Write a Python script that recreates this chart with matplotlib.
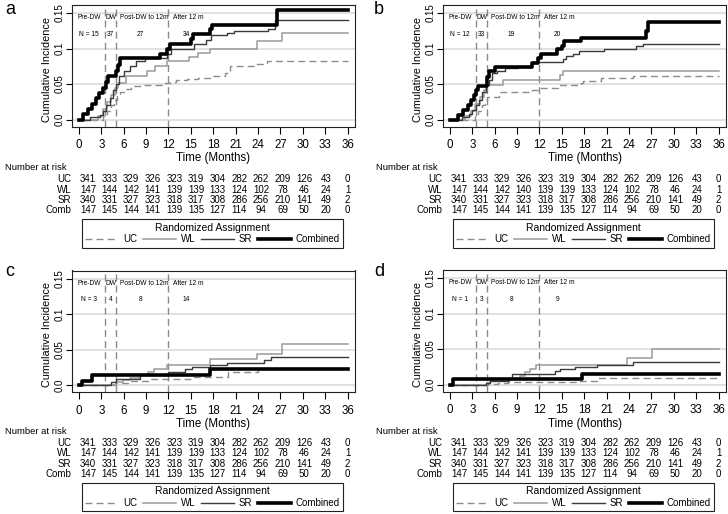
import matplotlib
matplotlib.use('Agg')
import matplotlib.pyplot as plt
from matplotlib.lines import Line2D
from matplotlib.transforms import blended_transform_factory
import numpy as np

plt.rcParams['font.family'] = ['Liberation Sans', 'DejaVu Sans']

# ---- data ----
months = [0, 3, 6, 9, 12, 15, 18, 21, 24, 27, 30, 33, 36]
yticks = [0.0, 0.05, 0.1, 0.15]
ytick_labels = ['0.0', '0.05', '0.1', '0.15']
groups = ['UC', 'WL', 'SR', 'Comb']

risk_uc = [341, 333, 329, 326, 323, 319, 304, 282, 262, 209, 126, 43, 0]
risk_wl = [147, 144, 142, 141, 139, 139, 133, 124, 102, 78, 46, 24, 1]
risk_wl_b = [147, 144, 142, 140, 139, 139, 133, 124, 102, 78, 46, 24, 1]
risk_sr = [340, 331, 327, 323, 318, 317, 308, 286, 256, 210, 141, 49, 2]
risk_comb = [147, 145, 144, 141, 139, 135, 127, 114, 94, 69, 50, 20, 0]

period_names = ['Pre-DW', 'DW', 'Post-DW to 12m', 'After 12 m']
period_cuts = [3.5, 5.0, 12.0]
n_a = ['N = 15', '37', '27', '34']
n_b = ['N = 12', '33', '19', '20']
n_c = ['N = 3', '4', '8', '14']
n_d = ['N = 1', '3', '8', '9']

# panel a
a_uc_t = [0, 3.2, 3.8, 4.3, 4.7, 5.1, 5.5, 6.0, 7.0, 8.5, 11.5, 12.2, 13.0, 14.5, 16.0, 17.6, 19.6, 20.3, 23.9, 25.2]
a_uc_v = [0, 0.005, 0.012, 0.02, 0.027, 0.033, 0.039, 0.043, 0.047, 0.049, 0.051, 0.053, 0.055, 0.057, 0.059, 0.062, 0.065, 0.075, 0.078, 0.082]
a_wl_t = [0, 2.5, 3.2, 3.8, 4.3, 4.8, 5.3, 6.3, 9.1, 10.2, 11.8, 14.8, 16.0, 17.5, 23.9, 27.2]
a_wl_v = [0, 0.005, 0.015, 0.025, 0.035, 0.045, 0.052, 0.061, 0.068, 0.075, 0.082, 0.088, 0.094, 0.1, 0.11, 0.122]
a_sr_t = [0, 1.5, 2.8, 3.2, 3.6, 4.1, 4.5, 5.0, 5.4, 6.1, 6.8, 7.7, 8.8, 11.8, 12.3, 15.4, 17.0, 17.7, 19.9, 20.8, 25.4, 26.3]
a_sr_v = [0, 0.003, 0.007, 0.012, 0.021, 0.03, 0.042, 0.05, 0.061, 0.068, 0.075, 0.082, 0.086, 0.093, 0.1, 0.106, 0.112, 0.119, 0.122, 0.125, 0.128, 0.14]
a_cb_t = [0, 0.5, 1.25, 1.8, 2.3, 2.7, 3.2, 3.6, 3.9, 5.0, 5.2, 5.5, 10.9, 11.8, 12.2, 15.0, 15.3, 17.6, 17.8, 26.6]
a_cb_v = [0, 0.008, 0.015, 0.022, 0.03, 0.037, 0.045, 0.053, 0.061, 0.068, 0.077, 0.0865, 0.093, 0.1, 0.106, 0.113, 0.12, 0.127, 0.133, 0.154]

# panel b
b_uc_t = [0, 3.3, 3.8, 4.3, 4.7, 5.0, 6.6, 11.0, 11.8, 14.5, 17.5, 17.9, 20.2, 24.6]
b_uc_v = [0, 0.006, 0.012, 0.02, 0.026, 0.032, 0.039, 0.042, 0.045, 0.048, 0.051, 0.054, 0.058, 0.061]
b_wl_t = [0, 2.0, 2.8, 3.4, 4.0, 4.5, 4.8, 7.1, 14.7, 15.2]
b_wl_v = [0, 0.005, 0.012, 0.022, 0.032, 0.042, 0.0485, 0.0556, 0.063, 0.069]
b_sr_t = [0, 1.6, 2.5, 3.0, 3.5, 3.9, 4.3, 4.8, 5.2, 5.7, 6.3, 7.4, 9.1, 11.0, 15.2, 15.6, 16.5, 17.3, 20.6, 25.0, 25.9]
b_sr_v = [0, 0.004, 0.008, 0.013, 0.02, 0.027, 0.039, 0.0485, 0.056, 0.065, 0.069, 0.072, 0.074, 0.081, 0.085, 0.09, 0.093, 0.096, 0.099, 0.103, 0.106]
b_cb_t = [0, 1.1, 1.8, 2.4, 2.8, 3.2, 3.5, 3.8, 5.0, 5.3, 6.0, 11.0, 11.8, 12.2, 14.3, 15.0, 15.3, 17.6, 26.3, 26.6]
b_cb_v = [0, 0.007, 0.013, 0.02, 0.027, 0.034, 0.041, 0.047, 0.06, 0.068, 0.074, 0.08, 0.087, 0.093, 0.1, 0.104, 0.11, 0.115, 0.124, 0.137]

# panel c
c_uc_t = [0, 5.0, 6.6, 9.5, 15.3, 17.6, 20.0, 24.0]
c_uc_v = [0, 0.003, 0.006, 0.009, 0.011, 0.012, 0.018, 0.022]
c_wl_t = [0, 5.0, 5.9, 6.8, 8.2, 9.3, 10.1, 11.8, 17.6, 23.8, 27.2]
c_wl_v = [0, 0.004, 0.007, 0.01, 0.014, 0.019, 0.022, 0.028, 0.036, 0.044, 0.058]
c_sr_t = [0, 4.3, 5.0, 8.2, 12.0, 14.2, 15.2, 17.6, 19.8, 24.8, 25.7]
c_sr_v = [0, 0.004, 0.008, 0.014, 0.018, 0.022, 0.025, 0.028, 0.031, 0.035, 0.039]
c_cb_t = [0, 0.4, 1.75, 17.6]
c_cb_v = [0, 0.006, 0.014, 0.022]

# panel d
d_uc_t = [0, 5.1, 6.5, 7.8, 17.4, 19.7]
d_uc_v = [0, 0.001, 0.002, 0.003, 0.0055, 0.009]
d_wl_t = [0, 5.0, 5.4, 8.1, 9.4, 10.0, 10.7, 11.6, 23.7, 27.1]
d_wl_v = [0, 0.002, 0.0046, 0.008, 0.012, 0.017, 0.0216, 0.028, 0.0376, 0.05]
d_sr_t = [0, 4.9, 5.4, 7.8, 8.3, 14.1, 14.8, 16.8, 19.7, 24.6]
d_sr_v = [0, 0.002, 0.0046, 0.008, 0.015, 0.019, 0.0216, 0.024, 0.0275, 0.032]
d_cb_t = [0, 0.45, 17.7]
d_cb_v = [0, 0.008, 0.0147]

# ---- styles ----
styles = {
    'UC': dict(color='#8c8c8c', lw=1.0, ls=(0, (5, 3))),
    'WL': dict(color='#9a9a9a', lw=1.1, ls='-'),
    'SR': dict(color='#3a3a3a', lw=1.0, ls='-'),
    'Combined': dict(color='black', lw=2.6, ls='-'),
}

W, H = 728, 514
fig = plt.figure(figsize=(W / 100, H / 100), dpi=100)


def fy(py):
    return 1 - py / H


# label, axes left/top (px), curves, N labels, WL risk row, panel label x, label y, table offset
panels = [
    ('a', 72, 5, [a_uc_t, a_uc_v, a_wl_t, a_wl_v, a_sr_t, a_sr_v, a_cb_t, a_cb_v], n_a, risk_wl, 0, 10, 0),
    ('b', 443, 5, [b_uc_t, b_uc_v, b_wl_t, b_wl_v, b_sr_t, b_sr_v, b_cb_t, b_cb_v], n_b, risk_wl_b, 369, 10, 0),
    ('c', 72, 270.5, [c_uc_t, c_uc_v, c_wl_t, c_wl_v, c_sr_t, c_sr_v, c_cb_t, c_cb_v], n_c, risk_wl, 0, 271, 263.5),
    ('d', 443, 270, [d_uc_t, d_uc_v, d_wl_t, d_wl_v, d_sr_t, d_sr_v, d_cb_t, d_cb_v], n_d, risk_wl, 369, 271, 263.5),
]

names = ['UC', 'WL', 'SR', 'Combined']

for label, left, top, series, nlab, wl_risk, lab_x, lab_y, off in panels:
    ax = fig.add_axes([left / W, fy(top + 121.5), 283 / W, 121.5 / H])
    ax.set_xlim(-0.93, 37.0)
    ax.set_ylim(-0.0098, 0.1613)
    for yv in yticks:
        ax.axhline(yv, color='#dcdcdc', lw=1.2, zorder=0)
    for xc in period_cuts:
        ax.axvline(xc, color='#8a8a8a', lw=1.0, ls=(0, (5, 3)), zorder=1)

    for i in range(4):
        t = series[2 * i] + [36]
        v = series[2 * i + 1] + [series[2 * i + 1][-1]]
        st = styles[names[i]]
        ax.step(t, v, where='post', color=st['color'], lw=st['lw'], ls=st['ls'],
                zorder=2 + i)

    # period annotations
    hx = [1.4, 4.25, 8.7, 14.7]
    nx = [1.3, 4.25, 8.2, 14.4]
    for j in range(4):
        ax.text(hx[j], 0.1435, period_names[j], fontsize=4.8, ha='center', va='center')
        ax.text(nx[j], 0.12, nlab[j], fontsize=4.8, ha='center', va='center')

    ax.set_xticks(months)
    ax.set_xticklabels([str(m) for m in months], fontsize=8.3)
    ax.set_yticks(yticks)
    ax.set_yticklabels(ytick_labels, rotation=90, va='center', fontsize=7)
    ax.tick_params(axis='x', direction='out', length=5, width=0.8, pad=4)
    ax.tick_params(axis='y', direction='out', length=4, width=0.8, pad=1.5)
    for s in ax.spines.values():
        s.set_linewidth(0.8)
        s.set_color('#222222')
    ax.set_ylabel('Cumulative Incidence', fontsize=7.8)
    ax.yaxis.set_label_coords(-20 / 283, 0.47)
    ax.set_xlabel('Time (Months)', fontsize=8.3)
    ax.xaxis.set_label_coords(0.5, -26 / 121.5)

    fig.text((lab_x + 5) / W, fy(lab_y), label, fontsize=13, ha='left', va='center')

    # number at risk table
    tr = blended_transform_factory(ax.transData, fig.transFigure)
    fig.text((left - 67) / W, fy(off + 168), 'Number at risk', fontsize=6.8,
             ha='left', va='center')
    xs = np.linspace(1.2, 36, 13)
    rows = [risk_uc, wl_risk, risk_sr, risk_comb]
    for r, (g, vals) in enumerate(zip(groups, rows)):
        yy = fy(off + 179.5 + 10.3 * r)
        ax.text(-1.0, yy, g, transform=tr, fontsize=7, ha='right', va='center')
        for xv, n in zip(xs, vals):
            ax.text(xv, yy, str(n), transform=tr, fontsize=7, ha='center', va='center')

    handles = [Line2D([], [], color=styles[n]['color'], lw=styles[n]['lw'], ls=styles[n]['ls'])
               for n in names]
    leg = fig.legend(handles, names, loc='center', ncol=4, mode='expand',
                     bbox_to_anchor=((left + 5) / W, fy(off + 233.5), 271 / W, 0),
                     title='Randomized Assignment', title_fontsize=7.5, fontsize=7,
                     handlelength=3.4, handletextpad=0.5, columnspacing=2.0,
                     borderpad=0.35, labelspacing=0.2, fancybox=False, framealpha=1)
    leg.get_frame().set_edgecolor('#222222')
    leg.get_frame().set_linewidth(0.8)

fig.savefig('out.png', dpi=100)
